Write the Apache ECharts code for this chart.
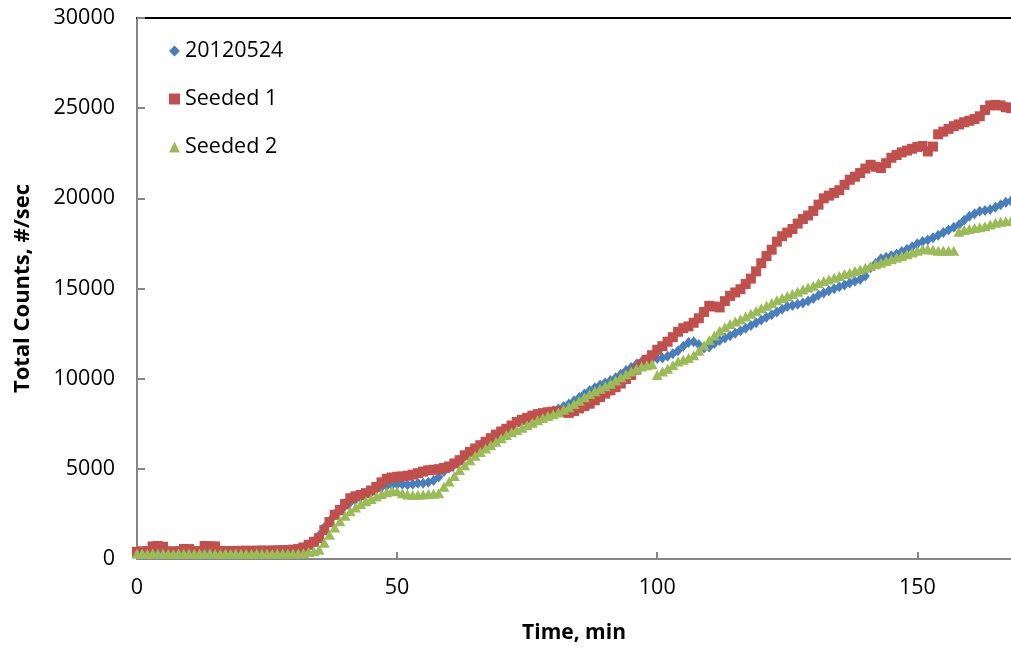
<!DOCTYPE html>
<html>
<head>
<meta charset="utf-8">
<script src="https://cdn.jsdelivr.net/npm/echarts@6/dist/echarts.min.js"></script>
<style>
html,body{margin:0;padding:0;background:#fff;}
#chart{width:1011px;height:649px;}
</style>
</head>
<body>
<div id="chart"></div>
<script>
// Sample times: one reading per minute, 0..168 min
var seriesNames = ['20120524', 'Seeded 1', 'Seeded 2'];
var xTicks = [0, 50, 100, 150];
var yTicks = [0, 5000, 10000, 15000, 20000, 25000, 30000];

var run20120524 = [
330,340,350,360,350,350,340,350,360,350,350,360,350,360,370,360,360,370,370,360,
370,380,370,380,380,390,390,400,400,410,420,450,520,700,950,1300,1750,2100,2450,2700,
2950,3150,3300,3450,3580,3700,3850,3980,4050,4100,4150,4150,4120,4150,4200,4200,4250,4350,4550,4850,
5050,5250,5420,5700,5900,6100,6280,6460,6650,6850,7020,7200,7350,7500,7650,7780,7880,7980,8060,8140,
8220,8320,8450,8600,8780,8960,9150,9350,9500,9650,9780,9900,10050,10250,10450,10620,10800,10950,11050,11100,
11120,11150,11250,11380,11550,11800,12000,12050,11900,11700,11750,11950,12110,12250,12380,12520,12660,12800,12950,13100,
13250,13400,13550,13700,13850,14000,14060,14120,14200,14300,14450,14620,14750,14870,14980,15100,15200,15300,15400,15500,
15700,16150,16400,16650,16730,16820,16920,17050,17180,17320,17480,17600,17690,17820,17950,18100,18250,18400,18530,18780,
19000,19150,19280,19330,19380,19500,19650,19780,19850
];

var seeded1 = [
400,420,450,700,720,680,420,420,430,560,550,430,450,720,700,700,450,440,440,450,
450,460,450,460,470,460,470,480,490,500,520,560,640,790,950,1160,1600,2050,2450,2720,
3050,3370,3480,3550,3650,3800,4000,4250,4450,4520,4560,4580,4620,4680,4760,4850,4920,4950,4980,5050,
5130,5300,5480,5750,5940,6130,6310,6500,6700,6900,7070,7220,7400,7600,7720,7830,7950,8030,8090,8140,
8170,8190,8150,8100,8200,8350,8480,8610,8800,8980,9170,9350,9530,9730,9980,10200,10500,10800,11050,11300,
11600,11800,12050,12300,12600,12800,12900,13100,13350,13700,14040,14000,13950,14300,14590,14780,14960,15250,15550,15950,
16400,16800,17150,17600,17900,18100,18300,18600,18850,19050,19300,19650,20000,20150,20300,20450,20750,21030,21200,21400,
21650,21860,21750,21680,21950,22250,22400,22550,22650,22750,22850,22900,22600,22870,23550,23700,23850,24000,24100,24220,
24300,24400,24550,24900,25150,25180,25150,25050,25000
];

var seeded2 = [
290,300,280,300,290,300,290,280,300,290,300,290,300,290,300,290,280,300,290,300,
290,300,290,300,290,300,290,300,300,300,300,310,320,390,430,510,900,1340,1750,2100,
2400,2650,2850,3050,3200,3330,3470,3600,3700,3800,3760,3650,3580,3550,3560,3580,3600,3620,3650,4000,
4300,4600,4930,5200,5480,5720,5940,6130,6310,6500,6700,6870,7030,7150,7280,7420,7560,7700,7820,7930,
8020,8120,8270,8420,8600,8780,8970,9150,9300,9440,9580,9720,9900,10080,10250,10400,10550,10680,10750,10800,
10200,10400,10550,10750,10950,11050,11150,11300,11550,11850,12150,12400,12660,12850,13030,13170,13300,13450,13600,13750,
13900,14050,14200,14350,14480,14580,14700,14820,14950,15050,15150,15300,15420,15500,15600,15700,15800,15880,15970,16060,
16150,16250,16350,16430,16530,16620,16720,16800,16900,17000,17100,17170,17170,17150,17100,17100,17100,17100,18150,18250,
18300,18350,18400,18450,18550,18640,18700,18730,18750
];

function pairs(arr) {
  return arr.map(function (v, i) { return [i, v]; });
}

var font = '"Open Sans", "Liberation Sans", sans-serif';
var chart = echarts.init(document.getElementById('chart'), null, {renderer: 'canvas'});
chart.setOption({
  backgroundColor: '#ffffff',
  animation: false,
  grid: {left: 137, top: 18, right: 0, bottom: 88, containLabel: false},
  legend: {
    show: true,
    orient: 'vertical',
    left: 164,
    top: 35,
    itemWidth: 11,
    itemHeight: 11,
    itemGap: 26,
    textStyle: {fontFamily: font, fontSize: 21.5, color: '#000'},
    data: seriesNames
  },
  xAxis: [{
    type: 'value',
    min: 0,
    max: 168,
    interval: 50,
    name: 'Time, min',
    nameLocation: 'middle',
    nameGap: 64,
    nameTextStyle: {fontFamily: font, fontSize: 21, fontWeight: 'bold', color: '#000'},
    axisLine: {show: true, lineStyle: {color: '#868686', width: 2}},
    axisTick: {show: true, inside: true, length: 7, lineStyle: {color: '#868686', width: 2}},
    axisLabel: {fontFamily: font, fontSize: 21.5, color: '#000', margin: 18, showMaxLabel: false,
      formatter: function (v) { return xTicks.indexOf(v) >= 0 ? String(v) : ''; }},
    splitLine: {show: false}
  }, {
    type: 'value',
    position: 'top',
    min: 0,
    max: 168,
    axisLine: {show: true, lineStyle: {color: '#000', width: 2}},
    axisTick: {show: false},
    axisLabel: {show: false},
    splitLine: {show: false}
  }],
  yAxis: {
    type: 'value',
    min: 0,
    max: 30000,
    interval: 5000,
    name: 'Total Counts, #/sec',
    nameLocation: 'middle',
    nameGap: 103,
    nameTextStyle: {fontFamily: font, fontSize: 22, fontWeight: 'bold', color: '#000'},
    axisLine: {show: true, lineStyle: {color: '#868686', width: 2}},
    axisTick: {show: true, inside: true, length: 8, lineStyle: {color: '#868686', width: 2}},
    axisLabel: {fontFamily: font, fontSize: 21.5, color: '#000', margin: 22,
      formatter: function (v) { return yTicks.indexOf(v) >= 0 ? String(v) : ''; }},
    splitLine: {show: false}
  },
  series: [{
    name: seriesNames[0],
    type: 'scatter',
    symbol: 'diamond',
    symbolSize: [9, 11],
    itemStyle: {color: '#4A7EBB', opacity: 1},
    data: pairs(run20120524)
  }, {
    name: seriesNames[1],
    type: 'scatter',
    symbol: 'rect',
    symbolSize: 10,
    itemStyle: {color: '#C0504D', opacity: 1},
    data: pairs(seeded1)
  }, {
    name: seriesNames[2],
    type: 'scatter',
    symbol: 'triangle',
    symbolSize: [11, 10],
    itemStyle: {color: '#9BBB59', opacity: 1},
    data: pairs(seeded2)
  }]
});
</script>
</body>
</html>
